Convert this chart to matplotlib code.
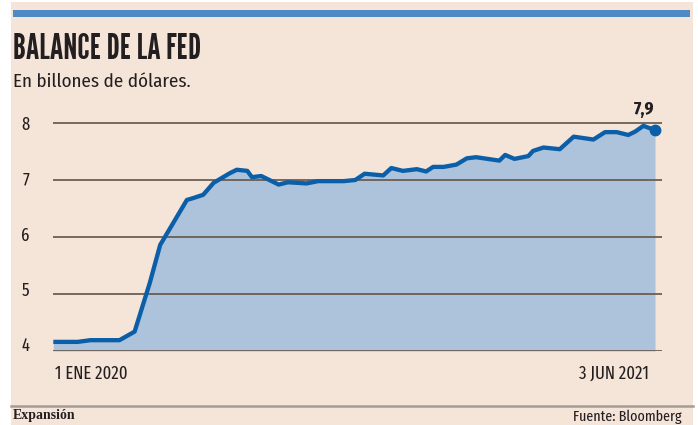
import matplotlib
matplotlib.use("Agg")
import matplotlib.pyplot as plt
import matplotlib.dates as mdates
import matplotlib.transforms as mtransforms
from matplotlib.patches import Rectangle
from matplotlib.lines import Line2D
from matplotlib import font_manager as fm
from matplotlib.textpath import TextPath
import pandas as pd

# ---------------- data ----------------
dates = ["2020-01-01", "2020-01-22", "2020-02-02", "2020-02-27", "2020-03-11", "2020-03-24",
         "2020-04-02", "2020-04-25", "2020-04-30", "2020-05-09", "2020-05-18", "2020-06-01",
         "2020-06-07", "2020-06-16", "2020-06-20", "2020-06-28", "2020-07-13", "2020-07-21",
         "2020-08-06", "2020-08-16", "2020-09-07", "2020-09-17", "2020-09-25", "2020-10-11",
         "2020-10-18", "2020-10-28", "2020-11-09", "2020-11-17", "2020-11-23", "2020-12-02",
         "2020-12-13", "2020-12-22", "2020-12-30", "2021-01-19", "2021-01-24", "2021-02-01",
         "2021-02-13", "2021-02-17", "2021-02-26", "2021-03-12", "2021-03-24", "2021-04-10",
         "2021-04-20", "2021-04-30", "2021-05-10", "2021-05-16", "2021-05-23", "2021-05-27",
         "2021-06-02"]
values = [4.16, 4.16, 4.19, 4.19, 4.34, 5.19,
          5.86, 6.65, 6.68, 6.74, 6.95, 7.12,
          7.18, 7.16, 7.05, 7.07, 6.92, 6.96,
          6.94, 6.98, 6.98, 7.00, 7.11, 7.08,
          7.21, 7.16, 7.19, 7.15, 7.23, 7.23,
          7.27, 7.38, 7.40, 7.34, 7.44, 7.37,
          7.42, 7.51, 7.57, 7.54, 7.76, 7.71,
          7.84, 7.84, 7.79, 7.85, 7.95, 7.92,
          7.88]
y_ticks = [4, 5, 6, 7, 8]
x_tick_labels = ["1 ENE 2020", "3 JUN 2021"]
last_label = "7,9"
title = "BALANCE DE LA FED"
subtitle = "En billones de dólares."
source = "Fuente: Bloomberg"
brand = "Expansión"

# ---------------- style ----------------
BG = "#f5e4d8"
FILL = "#adc2db"
LINE = "#0b5fa8"
BAR = "#4f8ac4"
TXT = "#231f20"
GRID = (0.42, 0.37, 0.33, 0.28)

TITLE_FONT = ["League Gothic", "Oswald", "DejaVu Sans"]
COND = ["Fira Sans Extra Condensed", "Barlow Condensed", "DejaVu Sans"]
SUB = ["Fira Sans Condensed", "Roboto", "DejaVu Sans"]

W, H = 698, 425
fig = plt.figure(figsize=(W / 100, H / 100), dpi=100, facecolor="white")

def fx(px):
    return px / W

def fy(py):
    return (H - py) / H

# background panel and top bar (behind everything)
fig.patches.append(Rectangle((fx(11), 0), fx(693) - fx(11), fy(2), transform=fig.transFigure,
                             facecolor=BG, edgecolor="none", zorder=-10))
fig.patches.append(Rectangle((fx(13), fy(17)), fx(690) - fx(13), fy(10) - fy(17),
                             transform=fig.transFigure, facecolor=BAR, edgecolor="none", zorder=-9))

# title with cap height matched
try:
    fp = fm.FontProperties(family=TITLE_FONT[0])
    ch = TextPath((0, 0), "H", size=100, prop=fp).get_extents().height / 100.0
    if not (0.5 < ch < 0.95):
        ch = 0.72
except Exception:
    ch = 0.72
title_size = 25.8 / ch * 0.72
fig.text(fx(13), fy(59), title, family=TITLE_FONT, fontsize=title_size, color=TXT,
         ha="left", va="baseline")
fig.text(fx(13), fy(87), subtitle, family=SUB, fontsize=13.7, color=TXT,
         ha="left", va="baseline")

# ---------------- axes ----------------
x = pd.to_datetime(dates)
xn = mdates.date2num(x)
px_per_day = (655 - 53.3) / (xn[-1] - xn[0])
x_right = xn[-1] + (662 - 655) / px_per_day

y_lo, y_hi = 4, 8.35
px_per_unit = 57
y0_px = 351
top_px = y0_px - (y_hi - y_lo) * px_per_unit
ax = fig.add_axes([fx(53.3), fy(y0_px), fx(662) - fx(53.3), (y0_px - top_px) / H])
ax.set_facecolor("none")
ax.set_zorder(1)
ax.set_xlim(xn[0], x_right)
ax.set_ylim(y_lo, y_hi)

ax.fill_between(xn, values, y_lo, color=FILL, linewidth=0, zorder=1)
ax.plot(xn, values, color=LINE, linewidth=3.1, solid_joinstyle="round", solid_capstyle="butt",
        zorder=3, clip_on=False)
ax.plot(xn[-1], values[-1], "o", color=LINE, markersize=7.5, zorder=4, clip_on=False)

ax.set_axisbelow(False)
ax.set_yticks(y_ticks)
ax.grid(axis="y", color=GRID, linewidth=1.3)
ax.grid(axis="x", visible=False)
for s in ax.spines.values():
    s.set_visible(False)

ax.tick_params(axis="y", length=0, pad=17, labelsize=13, labelcolor=TXT)
for lab in ax.get_yticklabels():
    lab.set_family(COND)
# labels in the reference are spaced slightly tighter than the grid
for v, lab in zip(y_ticks, ax.get_yticklabels()):
    dy = (max(y_ticks) - v) * 1.75 / 100.0
    lab.set_transform(lab.get_transform() + mtransforms.ScaledTranslation(0, dy, fig.dpi_scale_trans))

ax.set_xticks([xn[0], xn[-1]])
ax.set_xticklabels(x_tick_labels)
ax.tick_params(axis="x", length=0, pad=10, labelsize=13, labelcolor=TXT)
xl = ax.get_xticklabels()
xl[0].set_ha("left")
xl[0].set_transform(xl[0].get_transform() + mtransforms.ScaledTranslation(2 / 100, 0, fig.dpi_scale_trans))
xl[1].set_ha("right")
xl[1].set_transform(xl[1].get_transform() + mtransforms.ScaledTranslation(-6 / 100, 0, fig.dpi_scale_trans))
for lab in xl:
    lab.set_family(COND)

ax.annotate(last_label, xy=(xn[-1], values[-1]), xytext=(-7.5, 14.5), textcoords="offset points",
            ha="center", va="center", fontsize=13.5, fontweight="bold", family=COND, color=TXT)

# ---------------- footer ----------------
fig.lines.append(Line2D([fx(11), fx(693)], [fy(406), fy(406)], transform=fig.transFigure,
                        color="#a39d97", linewidth=1.8))
fig.text(fx(13), fy(415.5), brand, family=["Liberation Serif", "DejaVu Serif"], fontweight="bold",
         fontsize=10, color=TXT, ha="left", va="center")
fig.text(fx(682), fy(417), source, family=COND, fontsize=11, color=TXT, ha="right", va="center")

fig.savefig("out.png", dpi=100, facecolor="white")
